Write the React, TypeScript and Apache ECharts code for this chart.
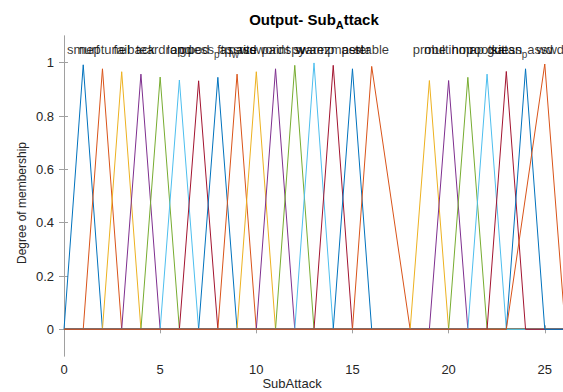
import React, { useEffect, useRef } from "react";
import * as echarts from "echarts";

const mfNames = [
  "smurf", "neptune", "fail", "back", "teardrop", "land", "pod",
  "guess_passwd", "ftp_write", "password", "paint", "spy", "swamp",
  "warezmaster", "perl", "stable", "probe", "multihop", "nmap",
  "rootkit", "satan", "guess_passwd", "wd",
];
const mfStart = [0, 1, 2, 3, 4, 5, 6, 7, 8, 9, 10, 11, 12, 13, 14, 15, 18, 19, 20, 21, 22, 23, 23];
const mfPeak = [1, 2, 3, 4, 5, 6, 7, 8, 9, 10, 11, 12, 13, 14, 15, 16, 19, 20, 21, 22, 23, 24, 25];
const mfEnd = [2, 3, 4, 5, 6, 7, 8, 9, 10, 11, 12, 13, 14, 15, 16, 18, 20, 21, 22, 23, 24, 25, 26.07];
const mfHeight = [
  0.992, 0.977, 0.966, 0.957, 0.946, 0.935, 0.932, 0.945, 0.957, 0.966, 0.977, 0.99,
  0.999, 0.99, 0.977, 0.986, 0.933, 0.933, 0.945, 0.957, 0.967, 0.977, 0.995,
];
const xTicks = [0, 5, 10, 15, 20, 25];
const yTicks = [0, 0.2, 0.4, 0.6, 0.8, 1];

const colors = ["#0072BD", "#D95319", "#EDB120", "#7E2F8E", "#77AC30", "#4DBEEE", "#A2142F"];
const FONT = '"Liberation Sans", Arial, Helvetica, sans-serif';

export default function App() {
  const ref = useRef<HTMLDivElement>(null);
  useEffect(() => {
    if (!ref.current) return;
    const chart = echarts.init(ref.current, null, { renderer: "svg" });
    const XMIN = 0;
    const XMAX = 26;

    const series: any[] = mfNames.map((name, i) => {
      const pts: number[][] = [];
      if (mfStart[i] > XMIN) pts.push([XMIN, 0]);
      pts.push([mfStart[i], 0]);
      pts.push([mfPeak[i], mfHeight[i]]);
      pts.push([mfEnd[i], 0]);
      if (mfEnd[i] < XMAX) pts.push([XMAX, 0]);
      return {
        type: "line",
        name,
        data: pts,
        symbol: "none",
        lineStyle: { color: colors[i % 7], width: 1 },
        clip: true,
        silent: true,
        xAxisIndex: 0,
        yAxisIndex: 0,
      };
    });

    series.push({
      type: "scatter",
      symbolSize: 0,
      silent: true,
      z: 10,
      data: mfNames.map((n, i) => ({ value: [mfPeak[i], 1.05], name: n })),
      label: {
        show: true,
        position: "inside",
        fontFamily: FONT,
        fontSize: 13,
        color: "#000",
        formatter: (p: any) => {
          const n: string = p.name;
          const k = n.indexOf("_");
          if (k >= 0 && k < n.length - 1) {
            return n.slice(0, k) + "{sub|" + n[k + 1] + "}" + n.slice(k + 2);
          }
          return n;
        },
        rich: {
          sub: { fontSize: 10, fontFamily: FONT, color: "#000", verticalAlign: "top", padding: [10, 0, 0, 0] },
        },
      },
      xAxisIndex: 0,
      yAxisIndex: 0,
    });

    chart.setOption({
      animation: false,
      grid: { left: 64, top: 36, width: 500, height: 320, show: false, containLabel: false, outerBoundsMode: "none" },
      graphic: [
        {
          type: "text",
          x: 314,
          y: 19,
          style: {
            text: "Output- Sub{s|A}ttack",
            textAlign: "center",
            textVerticalAlign: "middle",
            font: "bold 15px " + FONT,
            fill: "#000",
            rich: {
              s: { fontSize: 11, fontWeight: "bold", fontFamily: FONT, fill: "#000", padding: [12, 0, 0, 0] },
            },
          },
        },
        {
          type: "text",
          x: 292,
          y: 383,
          style: {
            text: "SubAttack",
            textAlign: "center",
            textVerticalAlign: "middle",
            font: "13px " + FONT,
            fill: "#262626",
          },
        },
        {
          type: "text",
          x: 22,
          y: 203,
          rotation: Math.PI / 2,
          style: {
            text: "Degree of membership",
            textAlign: "center",
            textVerticalAlign: "middle",
            font: "12px " + FONT,
            fill: "#262626",
          },
        },
      ],
      xAxis: [
        {
          type: "value",
          min: XMIN,
          max: XMAX,
          interval: 5,
          position: "bottom",
          axisLine: { show: true, lineStyle: { color: "#a0a0a0", width: 1 } },
          axisTick: { show: true, inside: true, length: 4, lineStyle: { color: "#a0a0a0" }, customValues: xTicks },
          axisLabel: { fontFamily: FONT, fontSize: 13, color: "#262626", margin: 7, customValues: xTicks },
          splitLine: { show: false },
        },
        {
          type: "value",
          min: XMIN,
          max: XMAX,
          interval: 5,
          position: "top",
          axisLine: { show: true, lineStyle: { color: "#a0a0a0", width: 1 } },
          axisTick: { show: true, inside: true, length: 4, lineStyle: { color: "#a0a0a0" }, customValues: xTicks },
          axisLabel: { show: false },
          splitLine: { show: false },
        },
      ],
      yAxis: [
        {
          type: "value",
          min: -0.1,
          max: 1.1,
          position: "left",
          axisLine: { show: true, lineStyle: { color: "#a0a0a0", width: 1 } },
          axisTick: { show: true, inside: true, length: 4, lineStyle: { color: "#a0a0a0" }, customValues: yTicks },
          axisLabel: {
            fontFamily: FONT,
            fontSize: 13,
            color: "#262626",
            margin: 10,
            customValues: yTicks,
            formatter: (v: number) => String(Math.round(v * 10) / 10),
          },
          splitLine: { show: false },
        },
        {
          type: "value",
          min: -0.1,
          max: 1.1,
          position: "right",
          axisLine: { show: true, lineStyle: { color: "#a0a0a0", width: 1 } },
          axisTick: { show: true, inside: true, length: 5, lineStyle: { color: "#a0a0a0" }, customValues: yTicks },
          axisLabel: { show: false },
          splitLine: { show: false },
        },
      ],
      series,
    });
    return () => chart.dispose();
  }, []);
  return (
    <div
      ref={ref}
      style={{ position: "fixed", left: 0, top: 0, width: 563, height: 392, background: "#fff" }}
    />
  );
}
